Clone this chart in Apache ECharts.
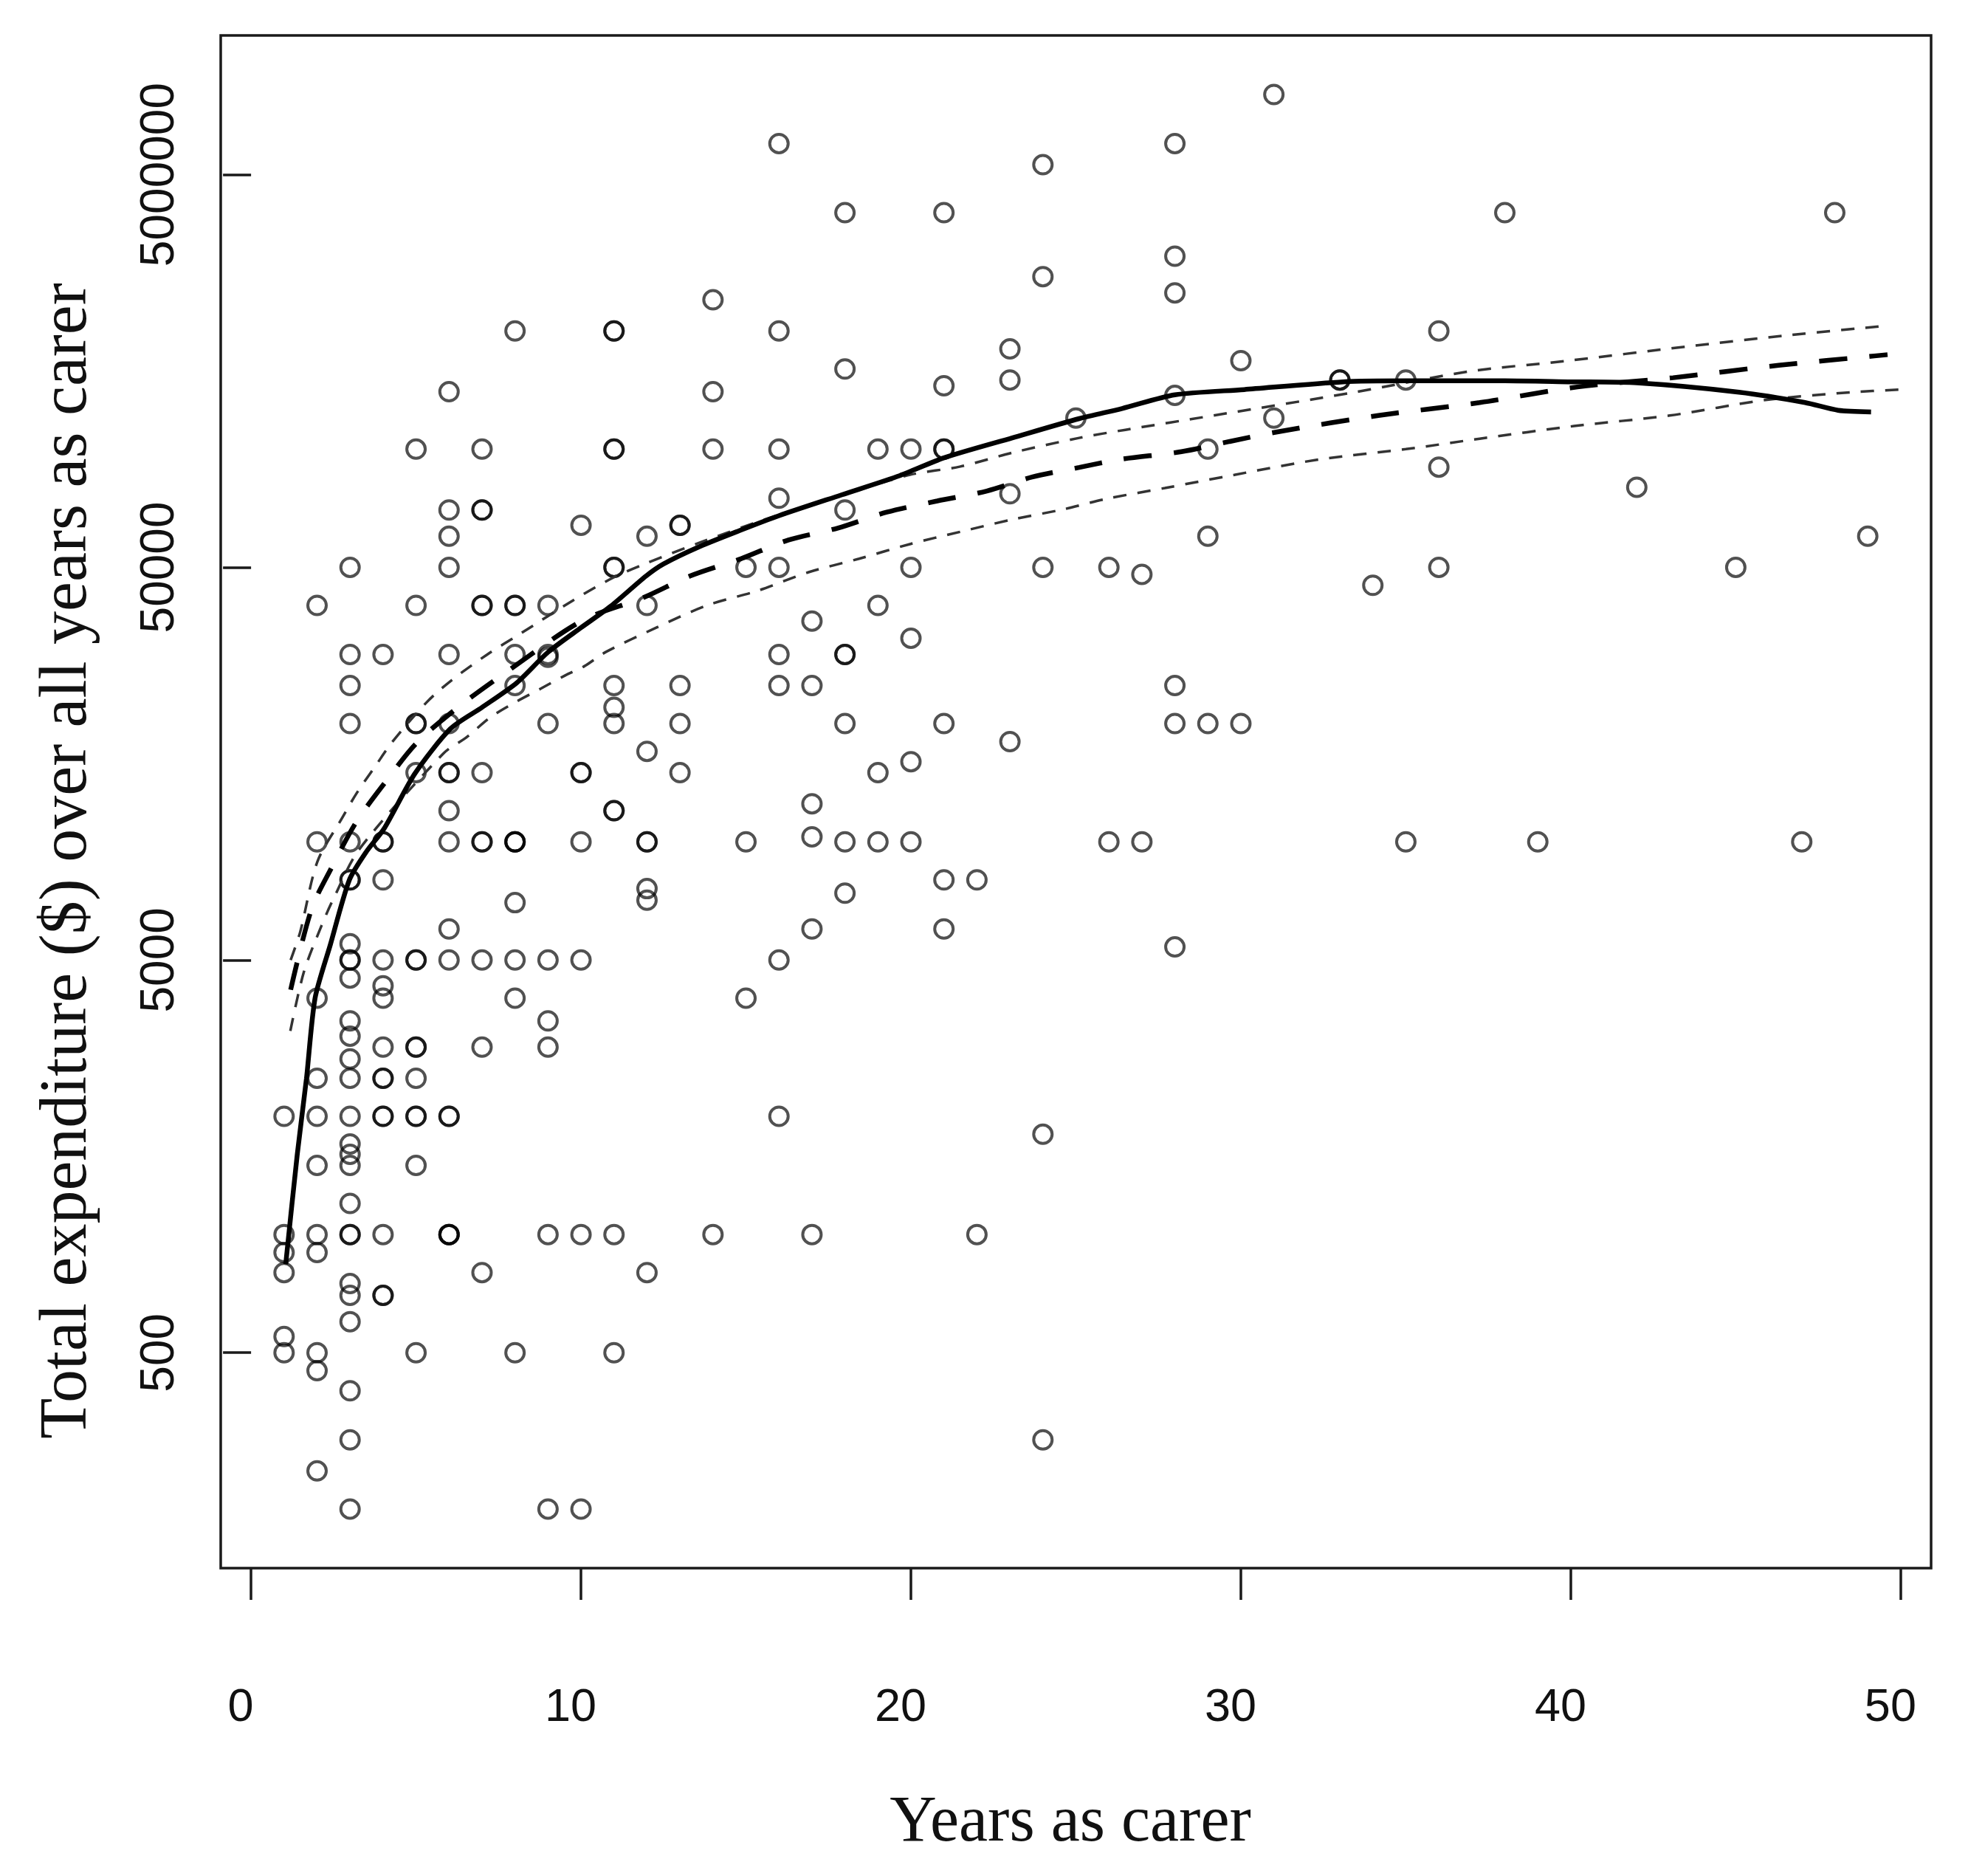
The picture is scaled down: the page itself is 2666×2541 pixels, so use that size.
<!DOCTYPE html>
<html>
<head>
<meta charset="utf-8">
<title>Total expenditure over all years as carer</title>
<script src="https://cdn.jsdelivr.net/npm/echarts@6.0.0/dist/echarts.min.js"></script>
<style>
  html, body { margin: 0; padding: 0; background: #fff; }
  #main { width: 2666px; height: 2541px; }
</style>
</head>
<body>
<div id="main"></div>
<script>
// observed carers: years as carer and total spend ($), one line per year
var pointYears = [
  1,1,1,1,1,1,
  2,2,2,2,2,2,2,2,2,2,2,
  3,3,3,3,3,3,3, 3,3,3,3,3,3,3, 3,3,3,3,3,3,3, 3,3,3,3,3,3,3,
  4,4,4,4,4,4,4,4,4,4,4,4,4,4,4,
  5,5,5,5,5,5,5,5,5,5,5,5,5,5,
  6,6,6,6,6,6,6,6,6,6,6,6,6,6,6,6,6,
  7,7,7,7,7,7,7,7,7,7,7,
  8,8,8,8,8,8,8,8,8,8,8,8,
  9,9,9,9,9,9,9,9,9,
  10,10,10,10,10,10,10,
  11,11,11,11,11,11,11,11,11,11,11,11,11,
  12,12,12,12,12,12,12,12,
  13,13,13,13,13,
  14,14,14,14,
  15,15,15,
  16,16,16,16,16,16,16,16,16,
  17,17,17,17,17,17,
  18,18,18,18,18,18,18,18,
  19,19,19,19,
  20,20,20,20,20,
  21,21,21,21,21,21,21,
  22,22,
  23,23,23,23,
  24,24,24,24,24,
  25,
  26,26,
  27,27,
  28,28,28,28,28,28,28,
  29,29,29,
  30,30,
  31,31,
  33,33,
  34,
  35,35,
  36,36,36,
  38, 39, 42, 45, 47, 48, 49
];
var pointSpend = [
  2000, 1000, 900, 800, 550, 500,
  40000, 10000, 4000, 2500, 2000, 1500, 1000, 900, 500, 450, 250,
  50000, 30000, 25000, 20000, 10000, 8000, 8000,
  5500, 5000, 5000, 4500, 3500, 3200, 2800,
  2500, 2000, 1700, 1600, 1500, 1200, 1000,
  1000, 750, 700, 600, 400, 300, 200,
  30000, 10000, 10000, 8000, 5000, 4300, 4000, 3000, 2500, 2500, 2000, 2000, 1000, 700, 700,
  100000, 40000, 20000, 20000, 15000, 5000, 5000, 3000, 3000, 2500, 2000, 2000, 1500, 500,
  140000, 70000, 60000, 50000, 30000, 20000, 15000, 15000, 12000, 10000, 6000, 5000, 2000, 2000, 1000, 1000, 1000,
  100000, 70000, 70000, 40000, 40000, 15000, 10000, 10000, 5000, 3000, 800,
  200000, 40000, 40000, 30000, 25000, 10000, 10000, 10000, 7000, 5000, 4000, 500,
  40000, 30000, 29500, 20000, 5000, 3500, 3000, 1000, 200,
  64000, 15000, 15000, 10000, 5000, 1000, 200,
  200000, 200000, 100000, 100000, 50000, 50000, 25000, 22000, 20000, 12000, 12000, 1000, 500,
  60000, 40000, 17000, 10000, 10000, 7600, 7100, 800,
  64000, 64000, 25000, 20000, 15000,
  240000, 140000, 100000, 1000,
  50000, 10000, 4000,
  600000, 200000, 100000, 75000, 50000, 30000, 25000, 5000, 2000,
  36500, 25000, 12500, 10300, 6000, 1000,
  400000, 160000, 70000, 30000, 30000, 20000, 10000, 7400,
  100000, 40000, 15000, 10000,
  100000, 50000, 33000, 16000, 10000,
  400000, 145000, 100000, 100000, 20000, 8000, 6000,
  8000, 1000,
  180000, 150000, 77000, 18000,
  530000, 275000, 50000, 1800, 300,
  120000,
  50000, 10000,
  48000, 10000,
  600000, 310000, 250000, 137000, 25000, 20000, 5400,
  100000, 60000, 20000,
  168000, 20000,
  800000, 120000,
  150000, 150000,
  45000,
  150000, 10000,
  200000, 90000, 50000,
  400000, 10000, 80000, 50000, 10000, 400000, 60000
];

// smoothed curve (solid)
var smoothYears = [1.05, 1.4, 1.68, 1.94, 2.4, 2.98, 3.5, 4.03, 4.96, 6.04, 7.0, 8.05, 9.0, 10.0, 10.9,
  11.97, 12.5, 13.6, 14.8, 16.0, 17.9, 19.66, 21.0, 23.07, 25.1, 26.4, 28.0, 30.1, 33.1, 35.0,
  38.0, 40.0, 42.0, 45.1, 47.1, 48.1, 49.1];
var smoothSpend = [840, 1600, 2500, 4000, 5460, 8000, 9450, 10800, 14900, 19400, 22000, 25400, 30400, 35100, 39800,
  47500, 51000, 56500, 62000, 67700, 76500, 85600, 95000, 106800, 119600, 126900, 137500, 141800, 148400, 149300,
  149300, 148400, 147500, 139600, 131400, 125600, 124400];

// fitted curve (long dashes)
var fitYears = [1.2, 1.83, 2.44, 3.18, 4.1, 5.03, 6.33, 7.72, 10.04, 11.9, 13.3, 14.85, 16.29, 17.8, 19.27,
  20.8, 22.3, 23.67, 25.1, 26.35, 28.2, 29.66, 31.2, 34.17, 37.24, 40.2, 43.1, 46.3, 49.2, 49.6];
var fitSpend = [4200, 6730, 8590, 11200, 14300, 17900, 22200, 27000, 36600, 41900, 47500, 52600, 58700, 63000, 69100,
  73800, 78200, 84900, 89800, 94200, 98500, 104600, 111000, 121800, 131400, 144000, 152000, 163500, 172700, 174000];

// upper band (short dashes)
var upperYears = [1.2, 1.49, 2.01, 2.76, 3.2, 3.77, 4.29, 5.33, 6.08, 7.16, 8.19, 9.76, 10.96, 11.9, 13.6,
  15.87, 17.9, 19.97, 21.5, 23.07, 25.1, 26.5, 29.17, 33.45, 36.9, 39.8, 43.5, 46.6, 49.5];
var upperSpend = [5000, 5900, 8900, 11500, 13300, 15600, 18000, 22700, 25800, 30000, 34000, 41200, 47000, 50900, 57800,
  67500, 76300, 86000, 90300, 97900, 106800, 112000, 121800, 139600, 157600, 167500, 182400, 195000, 205900];

// lower band (short dashes)
var lowerYears = [1.19, 1.6, 2.13, 2.5, 3.28, 5.82, 6.53, 7.27, 8.02, 8.8, 9.51, 10.1, 10.74, 12.28, 13.82,
  15.36, 16.9, 18.43, 19.97, 21.5, 23.07, 24.6, 25.95, 27.7, 29.8, 32.4, 35.0, 37.24, 40.1, 43.0,
  45.9, 48.5, 50.0];
var lowerSpend = [3300, 4660, 6100, 7170, 9570, 16760, 18460, 20800, 22700, 24600, 26500, 28000, 30400, 35100, 40000,
  43600, 48600, 52600, 57300, 61600, 66200, 70200, 74800, 79600, 86000, 94200, 100000, 106300, 114500, 121800,
  133400, 139600, 141800];

// axis ticks (the top label is printed as in the source figure)
var xTicks = [0, 10, 20, 30, 40, 50];
var yTicks = [500, 5000, 50000, 500000];
var yTickLabels = ['500', '5000', '50000', '5000000'];

function zip(xs, ys) {
  return xs.map(function (x, i) { return [x, ys[i]]; });
}

var myChart = echarts.init(document.getElementById('main'));

myChart.setOption({
  animation: false,
  backgroundColor: '#ffffff',
  grid: {
    left: 299,
    top: 48,
    width: 2317,
    height: 2076,
    show: true,
    borderColor: '#1a1a1a',
    borderWidth: 3.5,
    outerBoundsMode: 'none'
  },
  xAxis: {
    type: 'value',
    min: -0.92,
    max: 50.92,
    axisLine: { show: false },
    splitLine: { show: false },
    axisTick: {
      customValues: xTicks,
      length: 43,
      lineStyle: { color: '#1a1a1a', width: 3.5 }
    },
    axisLabel: {
      customValues: xTicks,
      margin: 158,
      fontSize: 63,
      fontFamily: 'Liberation Sans',
      color: '#111',
      padding: [0, 28, 0, 0]
    }
  },
  yAxis: {
    type: 'log',
    logBase: 10,
    min: 141.4,
    max: 1131000,
    axisLine: { show: false },
    splitLine: { show: false },
    axisTick: {
      customValues: yTicks,
      length: 38,
      lineStyle: { color: '#1a1a1a', width: 3.5 }
    },
    axisLabel: {
      customValues: yTicks,
      rotate: 90,
      margin: 50,
      fontSize: 64,
      fontFamily: 'Liberation Sans',
      color: '#111',
      formatter: function (value) {
        for (var i = 0; i < yTicks.length; i++) {
          if (Math.abs(value - yTicks[i]) / yTicks[i] < 1e-6) return yTickLabels[i];
        }
        return '';
      }
    }
  },
  graphic: [
    {
      type: 'text',
      x: 1450,
      y: 2470,
      style: {
        text: 'Years as carer',
        font: '88px "Liberation Serif"',
        fill: '#111',
        align: 'center',
        verticalAlign: 'middle',
        textAlign: 'center',
        textVerticalAlign: 'middle'
      }
    },
    {
      type: 'text',
      x: 92,
      y: 1166,
      rotation: Math.PI / 2,
      style: {
        text: 'Total expenditure ($) over all years as carer',
        font: '90px "Liberation Serif"',
        fill: '#111',
        align: 'center',
        verticalAlign: 'middle',
        textAlign: 'center',
        textVerticalAlign: 'middle'
      }
    }
  ],
  series: [
    {
      name: 'carers',
      type: 'scatter',
      symbol: 'circle',
      symbolSize: 25,
      z: 2,
      itemStyle: {
        color: 'transparent',
        borderColor: 'rgba(0,0,0,0.85)',
        borderWidth: 4
      },
      data: zip(pointYears, pointSpend)
    },
    {
      name: 'smooth',
      type: 'line',
      showSymbol: false,
      smooth: 0.25,
      z: 5,
      lineStyle: { color: '#000', width: 6.5 },
      data: zip(smoothYears, smoothSpend)
    },
    {
      name: 'fit',
      type: 'line',
      showSymbol: false,
      smooth: 0.3,
      z: 4,
      lineStyle: { color: '#000', width: 6.5, type: [38, 30] },
      data: zip(fitYears, fitSpend)
    },
    {
      name: 'upper',
      type: 'line',
      showSymbol: false,
      smooth: 0.3,
      z: 3,
      lineStyle: { color: '#333', width: 3.5, type: [18, 15] },
      data: zip(upperYears, upperSpend)
    },
    {
      name: 'lower',
      type: 'line',
      showSymbol: false,
      smooth: 0.3,
      z: 3,
      lineStyle: { color: '#333', width: 3.5, type: [18, 15] },
      data: zip(lowerYears, lowerSpend)
    }
  ]
});
</script>
</body>
</html>
